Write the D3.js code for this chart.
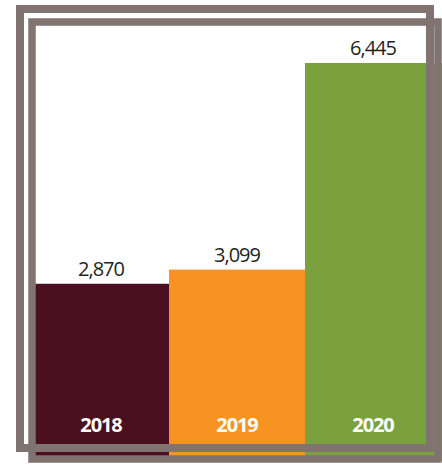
<!DOCTYPE html>
<html>
<head>
<meta charset="utf-8">
<script src="https://cdn.jsdelivr.net/npm/d3@7"></script>
<style>
  html, body { margin: 0; padding: 0; background: #fff; }
  svg { display: block; }
</style>
</head>
<body>
<svg id="chart" width="442" height="466"></svg>
<script>
const years = ["2018", "2019", "2020"];
const values = [2870, 3099, 6445];
const colors = ["#4a1020", "#f79321", "#7aa13d"];

const width = 442, height = 466;
const svg = d3.select("#chart");

const x = d3.scaleBand().domain(years).range([33, 441]).padding(0);
const y = d3.scaleLinear().domain([0, 6445]).range([461, 63]);

const data = years.map((yr, i) => ({ year: yr, value: values[i], color: colors[i] }));

// bars
svg.selectAll("rect.bar")
  .data(data)
  .enter()
  .append("rect")
  .attr("class", "bar")
  .attr("x", d => x(d.year))
  .attr("y", d => y(d.value))
  .attr("width", x.bandwidth() + 1)
  .attr("height", d => y(0) - y(d.value))
  .attr("fill", d => d.color);

// value labels
svg.selectAll("text.value")
  .data(data)
  .enter()
  .append("text")
  .attr("class", "value")
  .attr("x", d => x(d.year) + x.bandwidth() / 2)
  .attr("y", d => y(d.value) - 8)
  .attr("text-anchor", "middle")
  .style("font-family", "'Open Sans', sans-serif")
  .style("font-size", "20px")
  .style("letter-spacing", "-1px")
  .style("fill", "#231f20")
  .text(d => d3.format(",")(d.value));

// year labels inside bars
svg.selectAll("text.year")
  .data(data)
  .enter()
  .append("text")
  .attr("class", "year")
  .attr("x", d => x(d.year) + x.bandwidth() / 2)
  .attr("y", 432)
  .attr("text-anchor", "middle")
  .style("font-family", "'Open Sans', sans-serif")
  .style("font-size", "20px")
  .style("font-weight", "bold")
  .style("letter-spacing", "-1.1px")
  .style("fill", "#fff")
  .text(d => d.year);

// the two offset frames on top
const frameColor = "#807370";
svg.append("rect")
  .attr("x", 20).attr("y", 9)
  .attr("width", 410).attr("height", 439)
  .attr("fill", "none")
  .attr("stroke", frameColor)
  .attr("stroke-width", 8);

svg.append("rect")
  .attr("x", 32).attr("y", 22)
  .attr("width", 406).attr("height", 437)
  .attr("fill", "none")
  .attr("stroke", frameColor)
  .attr("stroke-width", 7.5);
</script>
</body>
</html>
